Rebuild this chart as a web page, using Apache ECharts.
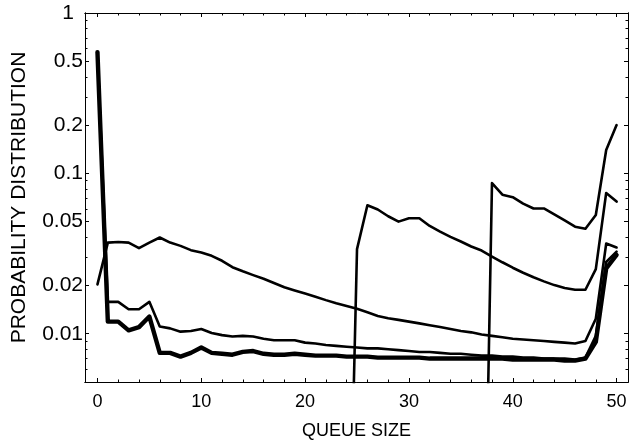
<!DOCTYPE html>
<html><head><meta charset="utf-8">
<script src="https://cdn.jsdelivr.net/npm/echarts@6/dist/echarts.min.js"></script>
<style>html,body{margin:0;padding:0;background:#fff}#c{width:636px;height:445px}</style>
</head><body><div id="c"></div>
<script>
// ---- data ----
const queueSize = [0,1,2,3,4,5,6,7,8,9,10,11,12,13,14,15,16,17,18,19,20,21,22,23,24,25,26,27,28,29,30,31,32,33,34,35,36,37,38,39,40,41,42,43,44,45,46,47,48,49,50];
const thickCurve = [0.57,0.0119,0.0119,0.0105,0.011,0.0128,0.0076,0.0076,0.0072,0.0076,0.0082,0.0076,0.0075,0.0074,0.0077,0.0078,0.0075,0.0074,0.0074,0.0075,0.0074,0.0073,0.0073,0.0073,0.0072,0.0072,0.0072,0.0071,0.0071,0.0071,0.0071,0.0071,0.007,0.007,0.007,0.007,0.007,0.007,0.007,0.007,0.0069,0.0069,0.0069,0.0069,0.0069,0.0068,0.0068,0.007,0.0089,0.0255,0.031];
const lowCurve = [0.57,0.0158,0.0158,0.0142,0.0142,0.0158,0.0111,0.0108,0.0103,0.0104,0.0107,0.0101,0.0098,0.0096,0.0097,0.0096,0.0093,0.0091,0.0091,0.0091,0.0088,0.0087,0.0085,0.0084,0.0083,0.0082,0.0081,0.0081,0.008,0.0079,0.0078,0.0077,0.0077,0.0076,0.0075,0.0075,0.0074,0.0073,0.0073,0.0072,0.0072,0.0071,0.0071,0.007,0.007,0.007,0.0069,0.0071,0.0097,0.028,0.0325];
const smoothCurve = [0.0203,0.037,0.0373,0.037,0.0342,0.037,0.0398,0.037,0.0353,0.0332,0.0321,0.0306,0.0285,0.026,0.0245,0.0232,0.022,0.0207,0.0195,0.0186,0.0178,0.017,0.0162,0.0155,0.0149,0.0143,0.0136,0.0129,0.0125,0.0122,0.0119,0.0116,0.0113,0.011,0.0107,0.0104,0.0102,0.0099,0.0097,0.0095,0.0093,0.0092,0.0091,0.009,0.0089,0.0088,0.0087,0.009,0.0124,0.0365,0.0345];
const jump25X = [24,25,26,27,28,29,30,31,32,33,34,35,36,37,38,39,40,41,42,43,44,45,46,47,48,49,50];
const jump25Y = [0.00006,0.0337,0.0633,0.0595,0.054,0.05,0.0525,0.0525,0.047,0.0433,0.0402,0.0376,0.035,0.033,0.0303,0.0279,0.0258,0.024,0.0225,0.0212,0.0201,0.0193,0.0188,0.0188,0.0253,0.0755,0.0667];
const jump38X = [37,38,39,40,41,42,43,44,45,46,47,48,49,50];
const jump38Y = [0.00003,0.087,0.0736,0.071,0.0648,0.0604,0.0604,0.0555,0.0509,0.0465,0.0452,0.055,0.14,0.2];
const xTickLabels = [0,10,20,30,40,50];
const xMinorTicks = [2,4,6,8,12,14,16,18,22,24,26,28,32,34,36,38,42,44,46,48];
const yTickLabels = [0.01,0.02,0.05,0.1,0.2,0.5,1];
const yMinorTicks = [0.006,0.007,0.008,0.009,0.03,0.04,0.06,0.07,0.08,0.09,0.3,0.4,0.6,0.7,0.8,0.9];

// ---- chart ----
const FONT = '"Liberation Sans", Arial, sans-serif';
const AX = '#000';
function xAx(pos, vals, len, labels, name) {
  return {
    type: 'value', position: pos, min: -1.2, max: 51.1,
    axisLine: {show: true, onZero: false, lineStyle: {color: AX, width: 1}},
    axisTick: {show: true, inside: true, length: len, customValues: vals, lineStyle: {color: AX}},
    axisLabel: labels ? {show: true, customValues: vals, color: '#000', fontFamily: FONT, fontSize: 18, margin: 11} : {show: false},
    splitLine: {show: false},
    name: name || '', nameLocation: 'middle', nameGap: 40,
    nameTextStyle: {color: '#000', fontFamily: FONT, fontSize: 18}
  };
}
function yAx(pos, vals, len, labels, name) {
  return {
    type: 'log', logBase: 10, position: pos, min: 0.005, max: 1,
    axisLine: {show: true, onZero: false, lineStyle: {color: AX, width: 1}},
    axisTick: {show: true, inside: true, length: len, customValues: vals, lineStyle: {color: AX}},
    axisLabel: labels ? {show: true, customValues: vals, color: '#000', fontFamily: FONT, fontSize: 21, margin: 2,
      formatter: v => { const s = String(+(+v).toPrecision(3)); return s === '1' ? '{one|1}' : s; },
      rich: {one: {fontFamily: FONT, fontSize: 21, color: '#000', padding: [0, 9, 0, 0]}}} : {show: false},
    splitLine: {show: false},
    name: name || '', nameLocation: 'middle', nameGap: 55,
    nameTextStyle: {color: '#000', fontFamily: FONT, fontSize: 21}
  };
}
const lineBase = (w) => ({type: 'line', showSymbol: false, symbol: 'none', clip: true, animation: false,
  lineStyle: {color: '#000', width: w, cap: 'round', join: 'round'}, xAxisIndex: 0, yAxisIndex: 0});

const chart = echarts.init(document.getElementById('c'), null, {renderer: 'canvas'});
chart.setOption({
  animation: false,
  backgroundColor: '#fff',
  grid: {left: 85, top: 13, right: 8, bottom: 59, containLabel: false},
  xAxis: [
    xAx('bottom', xTickLabels, 4, true, 'QUEUE SIZE'),
    xAx('bottom', xMinorTicks, 2.5, false),
    xAx('top', xTickLabels, 4, false),
    xAx('top', xMinorTicks, 2.5, false)
  ],
  yAxis: [
    yAx('left', yTickLabels, 4, true, 'PROBABILITY DISTRIBUTION'),
    yAx('left', yMinorTicks, 2.5, false),
    yAx('right', yTickLabels, 4, false),
    yAx('right', yMinorTicks, 2.5, false)
  ],
  series: [
    Object.assign(lineBase(2.6), {data: queueSize.map((x, i) => [x, smoothCurve[i]])}),
    Object.assign(lineBase(2.6), {data: jump25X.map((x, i) => [x, jump25Y[i]])}),
    Object.assign(lineBase(2.6), {data: jump38X.map((x, i) => [x, jump38Y[i]])}),
    Object.assign(lineBase(2.6), {data: queueSize.map((x, i) => [x, lowCurve[i]])}),
    Object.assign(lineBase(4.4), {data: queueSize.map((x, i) => [x, thickCurve[i]])})
  ]
});
</script>
</body></html>
